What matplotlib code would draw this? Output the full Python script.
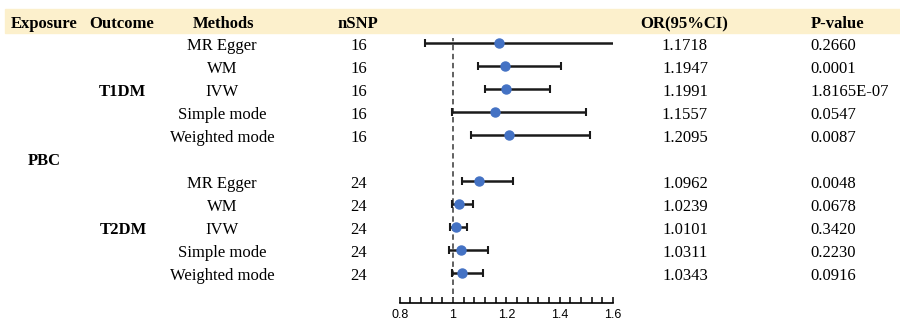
import numpy as np
import matplotlib.pyplot as plt
from matplotlib.patches import Rectangle
from matplotlib.ticker import MultipleLocator
import matplotlib.transforms as mtransforms

# ------------------------------------------
# Data
# ------------------------------------------

exposure = 'PBC'
outcomes = ['T1DM', 'T2DM']
methods = ['MR Egger', 'WM', 'IVW', 'Simple mode', 'Weighted mode'] * 2
nsnp = [16, 16, 16, 16, 16, 24, 24, 24, 24, 24]
or_vals = [1.1718, 1.1947, 1.1991, 1.1557, 1.2095,
           1.0962, 1.0239, 1.0101, 1.0311, 1.0343]
ci_low = [0.895, 1.094, 1.120, 0.996, 1.068,
          1.034, 0.997, 0.990, 0.984, 0.996]
ci_high = [1.75, 1.405, 1.364, 1.499, 1.514,
           1.224, 1.076, 1.054, 1.131, 1.112]
p_vals = ['0.2660', '0.0001', '1.8165E-07', '0.0547', '0.0087',
          '0.0048', '0.0678', '0.3420', '0.2230', '0.0916']
headers = ['Exposure', 'Outcome', 'Methods', 'nSNP', 'OR(95%CI)', 'P-value']
xtick_vals = [0.8, 1.0, 1.2, 1.4, 1.6]
xtick_labels = ['0.8', '1', '1.2', '1.4', '1.6']

# row index for each estimate (row 5 holds the exposure label)
rows = [0, 1, 2, 3, 4, 6, 7, 8, 9, 10]

# ------------------------------------------
# Figure and forest axes
# ------------------------------------------

W, H = 900, 323
fig = plt.figure(figsize=(9, 3.23), dpi=100)
serif = 'Liberation Serif'
fs = 12

ax_top, ax_bot = 33, 303
ax = fig.add_axes([399.7 / W, 1 - ax_bot / H, 213.3 / W, (ax_bot - ax_top) / H])
ax.set_xlim(0.8, 1.6)
ax.set_ylim((ax_bot - 43) / 23, (ax_top - 43) / 23)
ax.patch.set_visible(False)

for s in ['top', 'right', 'left']:
    ax.spines[s].set_visible(False)
ax.spines['bottom'].set_linewidth(1.2)
ax.set_yticks([])
ax.set_xticks(xtick_vals)
ax.set_xticklabels(xtick_labels, family='Liberation Sans', fontsize=9)
ax.xaxis.set_minor_locator(MultipleLocator(0.04))
ax.tick_params(axis='x', which='both', direction='in', length=4, width=1.1, pad=4.5)

# reference line at OR = 1
ax.vlines(1.0, (ax_bot - 43) / 23, (38 - 43) / 23, color='#555555',
          linestyle=(0, (3, 2)), linewidth=1.3)

# CI bars and point estimates
xerr = [np.array(or_vals) - np.array(ci_low), np.array(ci_high) - np.array(or_vals)]
ax.errorbar(or_vals, rows, xerr=xerr, fmt='none', ecolor='#1a1a1a',
            elinewidth=1.8, capsize=3, capthick=1.5, zorder=2)
ax.plot(or_vals, rows, 'o', color='#4472C4', markersize=6.5, zorder=3)

# ------------------------------------------
# Header band and table text
# ------------------------------------------

fig.add_artist(Rectangle((5 / W, 1 - 33 / H), 895 / W, 24 / H,
                         transform=fig.transFigure, color='#FCF0CC', zorder=0))

trans = mtransforms.blended_transform_factory(fig.transFigure, ax.transData)
trans = mtransforms.offset_copy(trans, fig=fig, y=-3, units='dots')
hdr_y = (21 - 43) / 23
hdr_x = [44, 122, 224, 358, 684, 838]
for hx, h in zip(hdr_x, headers):
    fig.text(hx / W, hdr_y, h, transform=trans, ha='center', va='center',
             family=serif, fontsize=fs, fontweight='bold')

for r, m, n, o, p in zip(rows, methods, nsnp, or_vals, p_vals):
    fig.text(222 / W, r, m, transform=trans, ha='center', va='center', family=serif, fontsize=fs)
    fig.text(359 / W, r, str(n), transform=trans, ha='center', va='center', family=serif, fontsize=fs)
    fig.text(685 / W, r, f'{o:.4f}', transform=trans, ha='center', va='center', family=serif, fontsize=fs)
    fig.text(810 / W, r, p, transform=trans, ha='left', va='center', family=serif, fontsize=fs)

fig.text(122 / W, 2, outcomes[0], transform=trans, ha='center', va='center',
         family=serif, fontsize=fs, fontweight='bold')
fig.text(123 / W, 8, outcomes[1], transform=trans, ha='center', va='center',
         family=serif, fontsize=fs, fontweight='bold')
fig.text(44 / W, 5, exposure, transform=trans, ha='center', va='center',
         family=serif, fontsize=fs, fontweight='bold')

fig.savefig('out.png', dpi=100)
